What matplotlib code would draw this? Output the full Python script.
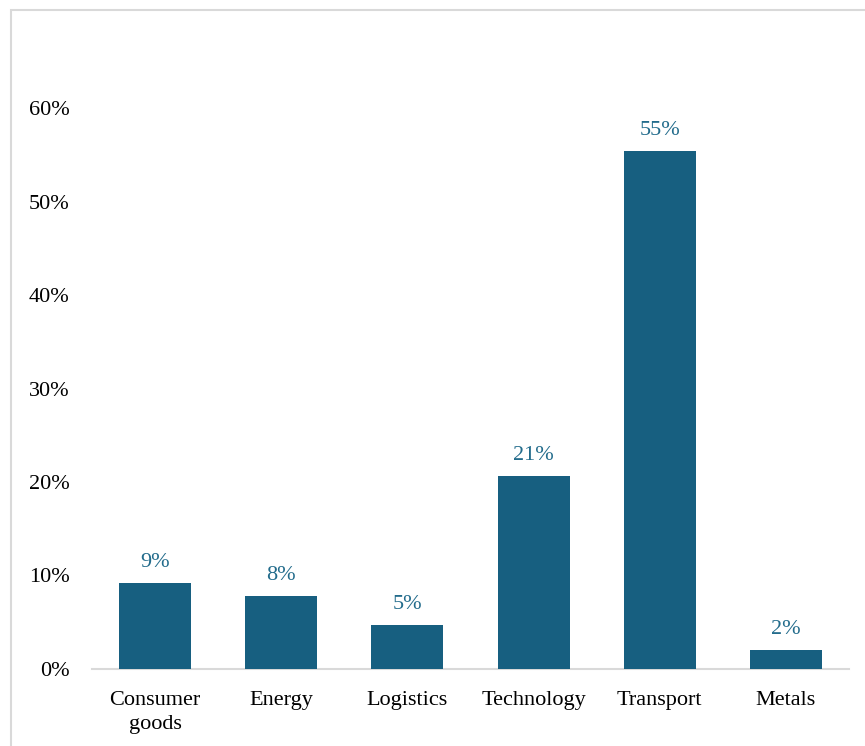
import matplotlib
matplotlib.use('Agg')
import matplotlib.pyplot as plt
from matplotlib.patches import Rectangle
from matplotlib.ticker import FuncFormatter

# ── Datos ─────────────────────────────────────────────────────────────────────
sectors = ['Consumer\ngoods', 'Energy', 'Logistics', 'Technology', 'Transport', 'Metals']
shares = [9.2, 7.8, 4.7, 20.6, 55.4, 2.0]
yticks = [0, 10, 20, 30, 40, 50, 60]

C_BAR = '#175f80'
C_LABEL = '#236c8c'
C_GRAY = '#d9d9d9'

plt.rcParams['font.family'] = ['Liberation Serif', 'DejaVu Serif']
plt.rcParams['font.size'] = 16

fig = plt.figure(figsize=(8.65, 7.46), dpi=100)
ax = fig.add_axes([92 / 865, 77 / 746, 757 / 865, 561 / 746])

# marco exterior
fig.patches.append(Rectangle((11 / 865, -0.1), 1.2, (746 - 10) / 746 + 0.1,
                             transform=fig.transFigure, fill=False,
                             edgecolor=C_GRAY, lw=1.5))

x = range(len(sectors))
bars = ax.bar(x, shares, width=0.57, color=C_BAR, zorder=3)

for b, v in zip(bars, shares):
    ax.annotate(f'{v:.0f}%', (b.get_x() + b.get_width() / 2, v),
                xytext=(0, 8), textcoords='offset points',
                ha='center', va='bottom', color=C_LABEL, fontsize=16)

ax.set_xlim(-0.5, len(sectors) - 0.5)
ax.set_ylim(0, 60)
ax.set_yticks(yticks)
ax.yaxis.set_major_formatter(FuncFormatter(lambda v, _: f'{v:.0f}%'))
ax.set_xticks(list(x))
ax.set_xticklabels(sectors, linespacing=1.35)

for s in ['top', 'right', 'left']:
    ax.spines[s].set_visible(False)
ax.spines['bottom'].set_color(C_GRAY)
ax.spines['bottom'].set_linewidth(1.5)
ax.tick_params(axis='y', length=0, pad=16)
ax.tick_params(axis='x', length=0, pad=16)

fig.savefig('out.png', dpi=100)
